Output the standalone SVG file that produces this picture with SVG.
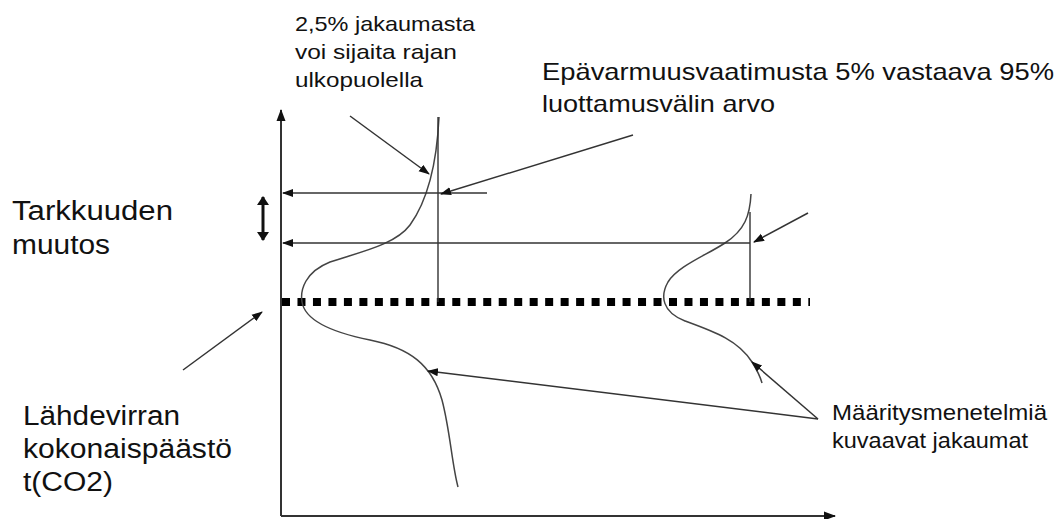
<svg xmlns="http://www.w3.org/2000/svg" width="1064" height="519" viewBox="0 0 1064 519">
<style>
text{font-family:"Liberation Sans",Arial,sans-serif;fill:#111}
.ax{stroke:#333;stroke-width:2;fill:none}
.ln{stroke:#333;stroke-width:1.4;fill:none}
.cv{stroke:#444;stroke-width:1.5;fill:none}
.ld{stroke:#333;stroke-width:1.5;fill:none}
</style>
<defs>
<marker id="ah" markerUnits="userSpaceOnUse" markerWidth="12" markerHeight="10" refX="11" refY="4.5" orient="auto-start-reverse" viewBox="0 0 12 9"><path d="M0,0 L12,4.5 L0,9 z" fill="#111"/></marker>
<marker id="ahs" markerUnits="userSpaceOnUse" markerWidth="11" markerHeight="9" refX="10" refY="4" orient="auto-start-reverse" viewBox="0 0 11 8"><path d="M0,0 L11,4 L0,8 z" fill="#111"/></marker>
<marker id="ahd" markerUnits="userSpaceOnUse" markerWidth="9" markerHeight="12" refX="8" refY="6" orient="auto-start-reverse" viewBox="0 0 9 12"><path d="M0,0 L9,6 L0,12 z" fill="#111"/></marker>
</defs>
<rect width="1064" height="519" fill="#fff"/>

<g id="axes">
<path class="ax" d="M281,516 L281,110" marker-end="url(#ah)"/>
<path class="ax" d="M281,516 L835,516" marker-end="url(#ah)"/>
</g>

<g id="baseline">
<line x1="282" y1="302" x2="810" y2="302" stroke="#000" stroke-width="8" stroke-dasharray="8 7.48"/>
</g>

<g id="dist-left">
<path class="cv" d="M439,117 C437,160 428,200 410,225 C395,245 360,252 330,262 C305,272 300,290 302,302 C305,320 330,332 370,340 C410,348 432,365 442,400 C450,430 452,465 458,487"/>
<line class="ln" x1="438" y1="117" x2="438" y2="302"/>
</g>

<g id="dist-right">
<path class="cv" d="M751,194 C750,215 745,230 725,243 C705,256 678,266 668,282 C660,296 662,312 685,321 C715,332 738,340 752,362 C757,370 760,376 762,383"/>
<line class="ln" x1="750" y1="212" x2="750" y2="302"/>
</g>

<g id="connectors">
<path class="ln" d="M487,193 L283,193" marker-end="url(#ahs)"/>
<path class="ln" d="M750,243 L283,243" marker-end="url(#ahs)"/>
<path d="M263,197 L263,240" stroke="#111" stroke-width="3" marker-start="url(#ahd)" marker-end="url(#ahd)"/>
<path class="ld" d="M350,116 L429,174" marker-end="url(#ahs)"/>
<path class="ld" d="M633,135 L441,194" marker-end="url(#ahs)"/>
<path class="ld" d="M808,213 L754,242" marker-end="url(#ahs)"/>
<path class="ld" d="M183,370 L262,312" marker-end="url(#ahs)"/>
<path class="ld" d="M818,419 L428,371" marker-end="url(#ahs)"/>
<path class="ld" d="M818,419 L752,362" marker-end="url(#ahs)"/>
</g>

<g id="label-25">
<text x="295" y="31" font-size="21" textLength="180" lengthAdjust="spacingAndGlyphs">2,5% jakaumasta</text>
<text x="295" y="59" font-size="21" textLength="162" lengthAdjust="spacingAndGlyphs">voi sijaita rajan</text>
<text x="295" y="87" font-size="21" textLength="128" lengthAdjust="spacingAndGlyphs">ulkopuolella</text>
</g>
<g id="label-epavarmuus">
<text x="542" y="80" font-size="24" textLength="512" lengthAdjust="spacingAndGlyphs">Epävarmuusvaatimusta 5% vastaava 95%</text>
<text x="542" y="112" font-size="24" textLength="233" lengthAdjust="spacingAndGlyphs">luottamusvälin arvo</text>
</g>
<g id="label-tarkkuus">
<text x="12" y="220" font-size="27" textLength="161" lengthAdjust="spacingAndGlyphs">Tarkkuuden</text>
<text x="12" y="254" font-size="27" textLength="98" lengthAdjust="spacingAndGlyphs">muutos</text>
</g>
<g id="label-lahdevirta">
<text x="23" y="425" font-size="27" textLength="157" lengthAdjust="spacingAndGlyphs">Lähdevirran</text>
<text x="23" y="458" font-size="27" textLength="209" lengthAdjust="spacingAndGlyphs">kokonaispäästö</text>
<text x="23" y="491" font-size="27" textLength="90" lengthAdjust="spacingAndGlyphs">t(CO2)</text>
</g>
<g id="label-maaritys">
<text x="832" y="420" font-size="22" textLength="215" lengthAdjust="spacingAndGlyphs">Määritysmenetelmiä</text>
<text x="832" y="448" font-size="22" textLength="196" lengthAdjust="spacingAndGlyphs">kuvaavat jakaumat</text>
</g>
</svg>
